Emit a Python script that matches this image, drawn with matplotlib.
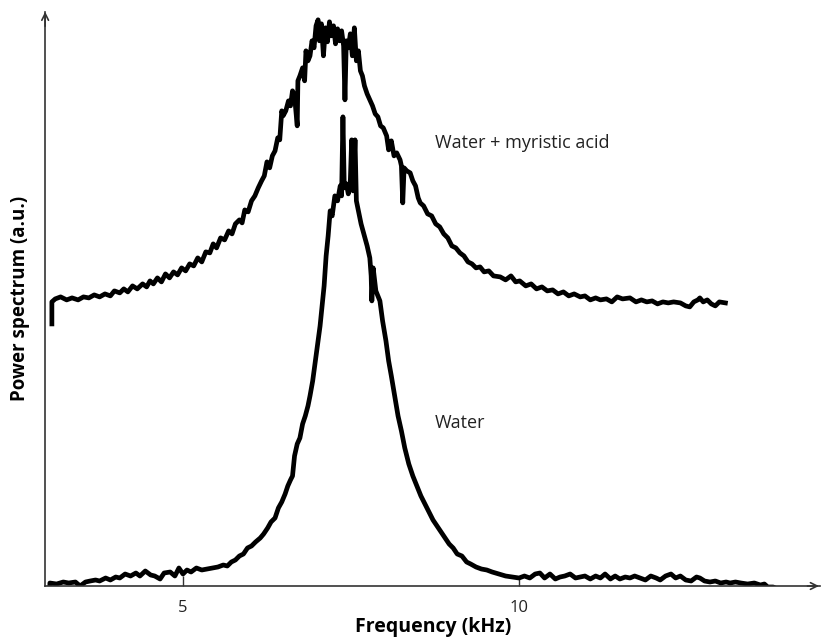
import numpy as np
import matplotlib
matplotlib.use("Agg")
from matplotlib import pyplot as plt

plt.rcParams['font.family'] = ['Open Sans', 'DejaVu Sans']

# water + myristic acid spectrum (freq in kHz, power in a.u.)
myr_freq = [3.05, 3.05, 3.10, 3.18, 3.27, 3.35, 3.44, 3.52, 3.60, 3.68, 3.76, 3.84, 3.92, 3.98,
            4.06, 4.12, 4.18, 4.25, 4.32, 4.40, 4.46, 4.51, 4.56, 4.62, 4.68, 4.74, 4.80, 4.86,
            4.92, 4.98, 5.04, 5.10, 5.16, 5.22, 5.28, 5.34, 5.40, 5.45, 5.50, 5.56, 5.62, 5.68,
            5.73, 5.78, 5.84, 5.88, 5.92, 5.97, 6.02, 6.07, 6.12, 6.17, 6.21, 6.25, 6.29, 6.33,
            6.37, 6.41, 6.44, 6.47, 6.49, 6.53, 6.57, 6.60, 6.63, 6.66, 6.70, 6.71, 6.74, 6.78,
            6.81, 6.83, 6.86, 6.89, 6.92, 6.95, 6.98, 7.01, 7.03, 7.06, 7.09, 7.12, 7.15, 7.18,
            7.21, 7.24, 7.27, 7.30, 7.33, 7.36, 7.39, 7.41, 7.43, 7.46, 7.49, 7.52, 7.55, 7.58,
            7.61, 7.64, 7.67, 7.70, 7.74, 7.78, 7.82, 7.86, 7.90, 7.94, 7.98, 8.03, 8.06, 8.10,
            8.14, 8.18, 8.23, 8.25, 8.27, 8.29, 8.33, 8.38, 8.42, 8.46, 8.50, 8.53, 8.58, 8.64,
            8.70, 8.76, 8.82, 8.88, 8.94, 9.00, 9.06, 9.12, 9.18, 9.24, 9.30, 9.36, 9.42, 9.48,
            9.55, 9.62, 9.72, 9.80, 9.88, 9.95, 10.01, 10.10, 10.18, 10.26, 10.34, 10.42, 10.50,
            10.58, 10.66, 10.74, 10.82, 10.91, 10.98, 11.06, 11.14, 11.21, 11.30, 11.38, 11.46,
            11.54, 11.65, 11.74, 11.82, 11.90, 11.98, 12.06, 12.14, 12.22, 12.30, 12.40, 12.48,
            12.54, 12.60, 12.66, 12.69, 12.74, 12.80, 12.86, 12.92, 12.98, 13.07]
myr_power = [2.62, 2.84, 2.87, 2.89, 2.86, 2.88, 2.86, 2.89, 2.88, 2.91, 2.89, 2.92, 2.90, 2.95,
             2.93, 2.97, 2.94, 3.00, 2.97, 3.02, 2.99, 3.05, 3.02, 3.08, 3.04, 3.12, 3.08, 3.14,
             3.11, 3.18, 3.15, 3.22, 3.20, 3.28, 3.24, 3.34, 3.33, 3.42, 3.38, 3.48, 3.46, 3.55,
             3.52, 3.62, 3.66, 3.63, 3.76, 3.74, 3.85, 3.90, 3.98, 4.05, 4.10, 4.24, 4.18, 4.30,
             4.35, 4.48, 4.46, 4.75, 4.70, 4.75, 4.85, 4.80, 4.95, 4.90, 4.60, 5.05, 5.10, 5.18,
             5.05, 5.35, 5.25, 5.30, 5.45, 5.38, 5.60, 5.66, 5.45, 5.62, 5.30, 5.58, 5.44, 5.64,
             5.50, 5.60, 5.42, 5.57, 5.45, 5.55, 5.40, 4.86, 5.45, 5.38, 5.52, 5.30, 5.58, 5.25,
             5.35, 5.15, 5.10, 5.00, 4.92, 4.86, 4.80, 4.72, 4.69, 4.60, 4.58, 4.50, 4.36, 4.45,
             4.30, 4.33, 4.26, 4.20, 3.83, 4.18, 4.15, 4.13, 4.05, 4.00, 3.88, 3.83, 3.80, 3.72,
             3.70, 3.62, 3.59, 3.52, 3.48, 3.40, 3.38, 3.33, 3.30, 3.24, 3.22, 3.18, 3.19, 3.14,
             3.15, 3.10, 3.09, 3.06, 3.10, 3.04, 3.05, 3.00, 3.02, 2.97, 2.99, 2.95, 2.96,
             2.92, 2.94, 2.90, 2.92, 2.89, 2.90, 2.86, 2.88, 2.86, 2.87, 2.84, 2.89,
             2.87, 2.88, 2.84, 2.86, 2.84, 2.85, 2.82, 2.84, 2.83, 2.84, 2.83, 2.80,
             2.79, 2.84, 2.86, 2.88, 2.84, 2.86, 2.82, 2.80, 2.84, 2.83]

# pure water spectrum
wat_freq = [3.02, 3.02, 3.12, 3.22, 3.30, 3.40, 3.47, 3.55, 3.62, 3.70, 3.76, 3.85, 3.92, 4.00,
            4.06, 4.14, 4.22, 4.30, 4.36, 4.44, 4.52, 4.58, 4.66, 4.72, 4.81, 4.88, 4.94, 5.00,
            5.06, 5.12, 5.20, 5.28, 5.36, 5.44, 5.52, 5.60, 5.66, 5.72, 5.78, 5.84, 5.90, 5.96,
            6.02, 6.08, 6.15, 6.20, 6.26, 6.31, 6.37, 6.42, 6.47, 6.52, 6.56, 6.60, 6.63, 6.66,
            6.70, 6.74, 6.78, 6.82, 6.86, 6.89, 6.93, 6.96, 7.00, 7.04, 7.07, 7.10, 7.13, 7.16,
            7.19, 7.22, 7.26, 7.30, 7.34, 7.36, 7.38, 7.40, 7.43, 7.46, 7.49, 7.51, 7.53, 7.56,
            7.58, 7.61, 7.65, 7.70, 7.74, 7.78, 7.80, 7.81, 7.83, 7.87, 7.93, 7.97, 8.02, 8.06,
            8.10, 8.15, 8.20, 8.25, 8.30, 8.36, 8.42, 8.48, 8.54, 8.60, 8.66, 8.72, 8.78, 8.84,
            8.90, 8.96, 9.02, 9.08, 9.15, 9.22, 9.28, 9.36, 9.44, 9.52, 9.60, 9.70, 9.80, 9.90,
            10.00, 10.08, 10.16, 10.24, 10.31, 10.38, 10.46, 10.54, 10.61, 10.68, 10.76, 10.84,
            10.91, 10.98, 11.06, 11.14, 11.21, 11.28, 11.36, 11.43, 11.50, 11.58, 11.65, 11.72,
            11.80, 11.88, 11.96, 12.04, 12.10, 12.18, 12.26, 12.33, 12.40, 12.48, 12.56, 12.64,
            12.69, 12.76, 12.84, 12.92, 13.00, 13.08, 13.14, 13.22, 13.30, 13.40, 13.50, 13.59,
            13.65, 13.70, 13.78, 13.81]
wat_power = [-0.05, 0.03, 0.02, 0.04, 0.03, 0.04, 0.00, 0.04, 0.05, 0.06, 0.05, 0.08, 0.06, 0.09,
             0.08, 0.12, 0.10, 0.13, 0.10, 0.15, 0.11, 0.10, 0.07, 0.13, 0.14, 0.10, 0.18, 0.12,
             0.16, 0.14, 0.18, 0.16, 0.17, 0.18, 0.19, 0.21, 0.20, 0.24, 0.26, 0.30, 0.32, 0.38,
             0.40, 0.44, 0.48, 0.52, 0.58, 0.64, 0.68, 0.78, 0.84, 0.92, 1.00, 1.06, 1.10, 1.30,
             1.42, 1.48, 1.62, 1.70, 1.80, 1.90, 2.05, 2.20, 2.40, 2.60, 2.80, 3.00, 3.30, 3.50,
             3.75, 3.70, 3.90, 3.85, 4.00, 3.90, 4.69, 3.98, 4.02, 3.92, 4.05, 4.46, 3.95, 4.46,
             3.85, 3.75, 3.62, 3.50, 3.40, 3.28, 3.10, 2.85, 3.18, 2.95, 2.85, 2.65, 2.45, 2.25,
             2.10, 1.90, 1.70, 1.55, 1.38, 1.22, 1.10, 1.00, 0.90, 0.82, 0.74, 0.66, 0.60, 0.54,
             0.48, 0.42, 0.38, 0.32, 0.30, 0.24, 0.22, 0.19, 0.17, 0.16, 0.14, 0.12, 0.10, 0.09,
             0.08, 0.10, 0.08, 0.12, 0.13, 0.08, 0.12, 0.07, 0.09, 0.10, 0.12, 0.08,
             0.09, 0.10, 0.07, 0.10, 0.08, 0.12, 0.07, 0.10, 0.07, 0.09, 0.08, 0.10,
             0.08, 0.06, 0.10, 0.08, 0.06, 0.10, 0.12, 0.08, 0.10, 0.06, 0.05, 0.09,
             0.08, 0.05, 0.04, 0.05, 0.03, 0.04, 0.03, 0.04, 0.03, 0.02, 0.03, 0.01,
             0.02, -0.01, -0.01, -0.02]

xticks = [5, 10]

fig = plt.figure(figsize=(8.21, 6.38), dpi=100)
ax = fig.add_axes([0.055, 0.0815, 0.944, 0.9])

ax.plot(myr_freq, myr_power, color='black', lw=3.4, solid_joinstyle='round')
ax.plot(wat_freq, wat_power, color='black', lw=3.4, solid_joinstyle='round')

ax.set_xlim(2.95, 14.48)
ax.set_ylim(0, 5.74)

# axes with open arrow heads
for s in ['top', 'right']:
    ax.spines[s].set_visible(False)
for s in ['left', 'bottom']:
    ax.spines[s].set_color('#333333')
    ax.spines[s].set_linewidth(1.2)
ax.annotate('', xy=(1.002, 0), xytext=(0.98, 0), xycoords='axes fraction',
            arrowprops=dict(arrowstyle='->', color='#333333', lw=1.2, mutation_scale=12))
ax.annotate('', xy=(0, 1.005), xytext=(0, 0.97), xycoords='axes fraction',
            arrowprops=dict(arrowstyle='->', color='#333333', lw=1.2, mutation_scale=12))

ax.set_xticks(xticks)
ax.set_xticklabels([str(t) for t in xticks], fontsize=12, color='#222222')
ax.set_yticks([])
ax.tick_params(axis='x', direction='in', length=7, width=1, pad=10, color='#333333')

ax.set_xlabel('Frequency (kHz)', fontsize=14, fontweight='bold', labelpad=1)
ax.set_ylabel('Power spectrum (a.u.)', fontsize=13.5, fontweight='bold', labelpad=11)

ax.text(8.75, 4.43, 'Water + myristic acid', fontsize=13, color='#222222', va='center')
ax.text(8.75, 1.63, 'Water', fontsize=13, color='#222222', va='center')

fig.savefig('out.png', dpi=100)
